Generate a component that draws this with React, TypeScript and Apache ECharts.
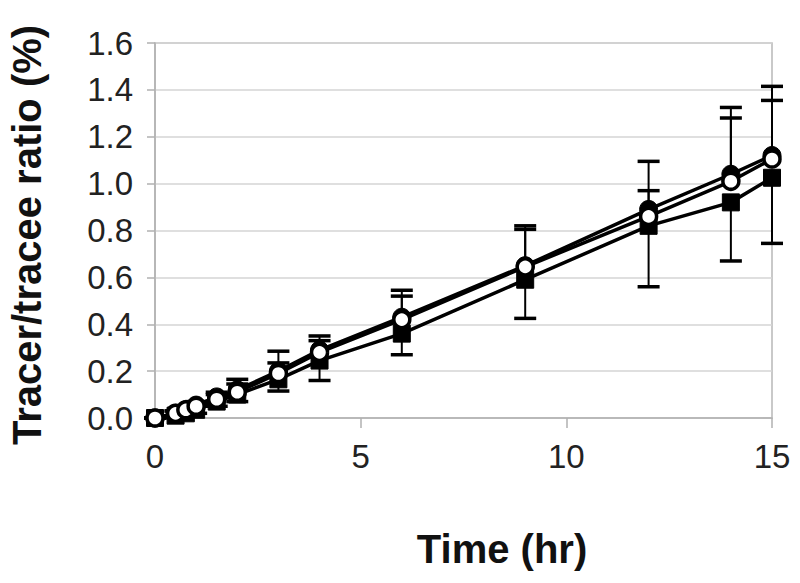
import React, { useEffect, useRef } from "react";
import * as echarts from "echarts";

const times = [0, 0.5, 0.75, 1, 1.5, 2, 3, 4, 6, 9, 12, 14, 15];
const filledCircle = [0, 0.02, 0.035, 0.055, 0.09, 0.12, 0.2, 0.29, 0.43, 0.65, 0.89, 1.04, 1.12];
const openCircle = [0, 0.02, 0.035, 0.05, 0.08, 0.11, 0.19, 0.28, 0.42, 0.645, 0.86, 1.01, 1.105];
const square = [0, 0.01, 0.02, 0.035, 0.07, 0.1, 0.165, 0.245, 0.36, 0.59, 0.82, 0.92, 1.025];
// one-sided error magnitudes (circles: upward, squares: downward)
const filledErr = [0, 0.01, 0.01, 0.015, 0.02, 0.045, 0.085, 0.06, 0.115, 0.17, 0.205, 0.285, 0.295];
const openErr = [0, 0.01, 0.01, 0.01, 0.02, 0.035, 0.045, 0.05, 0.1, 0.16, 0.11, 0.27, 0.25];
const squareErr = [0, 0.01, 0.01, 0.015, 0.02, 0.03, 0.05, 0.085, 0.09, 0.165, 0.26, 0.25, 0.28];
const yTicks = ["0.0", "0.2", "0.4", "0.6", "0.8", "1.0", "1.2", "1.4", "1.6"];
const xTitle = "Time (hr)";
const yTitle = "Tracer/tracee ratio (%)";

const pairs = (ys: number[]) => times.map((t, i) => [t, ys[i]]);
const errData = (ys: number[], es: number[], dir: number) =>
  times.map((t, i) => [t, ys[i], ys[i] + dir * es[i]]);

const errorSeries = (data: number[][]) => ({
  type: "custom",
  z: 1,
  silent: true,
  data,
  renderItem: (params: any, api: any) => {
    const x = api.value(0);
    const a = api.coord([x, api.value(1)]);
    const b = api.coord([x, api.value(2)]);
    const half = 11;
    return {
      type: "group",
      children: [
        {
          type: "line",
          shape: { x1: a[0], y1: a[1], x2: b[0], y2: b[1] },
          style: { stroke: "#000", lineWidth: 2 },
        },
        {
          type: "line",
          shape: { x1: b[0] - half, y1: b[1], x2: b[0] + half, y2: b[1] },
          style: { stroke: "#000", lineWidth: 3.5 },
        },
      ],
    };
  },
});

export default function App() {
  const ref = useRef<HTMLDivElement>(null);
  useEffect(() => {
    if (!ref.current) return;
    const chart = echarts.init(ref.current, null, { renderer: "svg" });
    chart.setOption({
      animation: false,
      backgroundColor: "#fff",
      grid: {
        left: 155,
        right: 28,
        top: 43,
        bottom: 165,
        show: true,
        borderColor: "#b8b8b8",
        borderWidth: 1.5,
      },
      xAxis: {
        type: "value",
        min: 0,
        max: 15,
        interval: 5,
        axisLine: { show: true, lineStyle: { color: "#b0b0b0", width: 1.5 } },
        axisTick: { show: true, length: 10, lineStyle: { color: "#b0b0b0", width: 1.5 } },
        splitLine: { show: false },
        axisLabel: {
          fontFamily: "Liberation Sans, Arial, sans-serif",
          fontSize: 33,
          color: "#222",
          margin: 22,
        },
      },
      yAxis: {
        type: "value",
        min: 0,
        max: 1.6,
        interval: 0.2,
        axisLine: { show: true, lineStyle: { color: "#b0b0b0", width: 1.5 } },
        axisTick: { show: true, length: 8, lineStyle: { color: "#b0b0b0", width: 1.5 } },
        splitLine: { show: true, lineStyle: { color: "#d4d4d4", width: 1.5 } },
        axisLabel: {
          fontFamily: "Liberation Sans, Arial, sans-serif",
          fontSize: 33,
          color: "#222",
          margin: 22,
          formatter: (v: number) => yTicks[Math.round(v / 0.2)] ?? v.toFixed(1),
        },
      },
      graphic: [
        {
          type: "text",
          x: 502,
          y: 549,
          style: {
            text: xTitle,
            font: "bold 40px 'Liberation Sans', Arial, sans-serif",
            fill: "#111",
            textAlign: "center",
            textVerticalAlign: "middle",
          },
        },
        {
          type: "text",
          x: 27,
          y: 235,
          rotation: Math.PI / 2,
          style: {
            text: yTitle,
            font: "bold 40px 'Liberation Sans', Arial, sans-serif",
            fill: "#111",
            textAlign: "center",
            textVerticalAlign: "middle",
          },
        },
      ],
      series: [
        errorSeries(errData(square, squareErr, -1)),
        errorSeries(errData(filledCircle, filledErr, 1)),
        errorSeries(errData(openCircle, openErr, 1)),
        {
          type: "line",
          name: "square",
          z: 3,
          data: pairs(square),
          symbol: "rect",
          symbolSize: 17,
          lineStyle: { color: "#000", width: 3.5 },
          itemStyle: { color: "#000", borderColor: "#000", borderWidth: 1 },
        },
        {
          type: "line",
          name: "filled",
          z: 4,
          data: pairs(filledCircle),
          symbol: "circle",
          symbolSize: 18,
          lineStyle: { color: "#000", width: 3.5 },
          itemStyle: { color: "#000", borderColor: "#000", borderWidth: 1 },
        },
        {
          type: "line",
          name: "open",
          z: 5,
          data: pairs(openCircle),
          symbol: "circle",
          symbolSize: 16,
          lineStyle: { color: "#000", width: 3.5 },
          itemStyle: { color: "#fff", borderColor: "#000", borderWidth: 3.5 },
        },
      ],
    });
    return () => chart.dispose();
  }, []);
  return <div ref={ref} style={{ width: 800, height: 583, position: "absolute", left: 0, top: 0 }} />;
}
